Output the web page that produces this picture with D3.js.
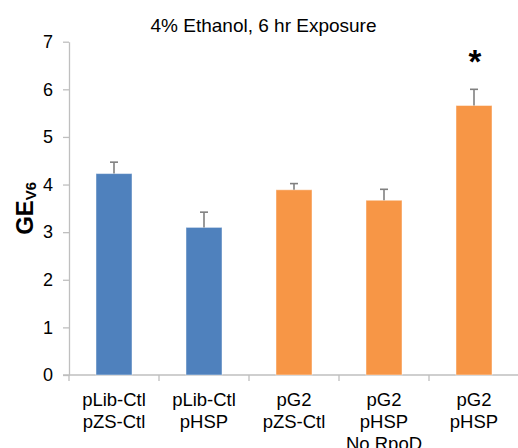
<!DOCTYPE html>
<html>
<head>
<meta charset="utf-8">
<script src="https://cdn.jsdelivr.net/npm/d3@7"></script>
<style>
  html, body { margin: 0; padding: 0; background: #fff; }
  svg { display: block; font-family: "Liberation Sans", Arial, sans-serif; }
</style>
</head>
<body>
<svg id="chart" width="518" height="448"></svg>
<script>
// Strains (label lines), mean GE values and standard errors
const categories = [
  ["pLib-Ctl", "pZS-Ctl"],
  ["pLib-Ctl", "pHSP"],
  ["pG2", "pZS-Ctl"],
  ["pG2", "pHSP", "No RpoD"],
  ["pG2", "pHSP"]
];
const values = [4.23, 3.10, 3.89, 3.67, 5.66];
const errors = [0.24, 0.32, 0.13, 0.23, 0.34];
const groups = ["ctl", "ctl", "g2", "g2", "g2"];
const significant = [false, false, false, false, true];
const yTicks = [0, 1, 2, 3, 4, 5, 6, 7];

const colors = { ctl: "#4F81BD", g2: "#F79646" };

const svg = d3.select("#chart");
const margin = { left: 69, right: -1, top: 41.7, bottom: 73 };
const W = 518, H = 448;

const x = d3.scaleBand()
  .domain(d3.range(values.length))
  .range([margin.left, W - margin.right])
  .paddingInner(0.6)
  .paddingOuter(0.3);

const y = d3.scaleLinear()
  .domain([0, 7])
  .range([H - margin.bottom, margin.top]);

// Title
svg.append("text")
  .attr("x", 263.5).attr("y", 32)
  .attr("text-anchor", "middle")
  .attr("font-size", 19)
  .attr("fill", "#000")
  .text("4% Ethanol, 6 hr Exposure");

// Y axis
const yAxis = svg.append("g")
  .attr("transform", `translate(${margin.left},0)`)
  .call(d3.axisLeft(y).tickValues(yTicks).tickFormat(d3.format("d"))
    .tickSize(6).tickSizeOuter(0).tickPadding(10));
yAxis.select(".domain").attr("stroke", "#BFBFBF").attr("stroke-width", 1.3);
yAxis.selectAll(".tick line").attr("stroke", "#BFBFBF").attr("stroke-width", 1.3);
yAxis.selectAll(".tick text")
  .attr("font-size", 18)
  .attr("fill", "#000")
  .attr("font-family", "Liberation Sans, Arial, sans-serif");

// X axis with tick marks at category boundaries
const x0 = y(0);
const boundaries = d3.range(values.length + 1).map(i =>
  margin.left + i * (W - margin.right - margin.left) / values.length);
svg.append("line")
  .attr("x1", margin.left - 6).attr("x2", W - margin.right)
  .attr("y1", x0).attr("y2", x0)
  .attr("stroke", "#BFBFBF").attr("stroke-width", 1.3);
svg.selectAll(".xtick").data(boundaries).enter().append("line")
  .attr("class", "xtick")
  .attr("x1", d => d).attr("x2", d => d)
  .attr("y1", x0).attr("y2", x0 + 6)
  .attr("stroke", "#BFBFBF").attr("stroke-width", 1.3);

// Bars
svg.selectAll(".bar").data(values).enter().append("rect")
  .attr("class", "bar")
  .attr("x", (d, i) => x(i))
  .attr("width", x.bandwidth())
  .attr("y", d => y(d))
  .attr("height", d => y(0) - y(d))
  .attr("fill", (d, i) => colors[groups[i]])
  .attr("stroke", "#ffffff")
  .attr("stroke-opacity", 0.45)
  .attr("stroke-width", 1);

// Error bars (upper only)
const eb = svg.selectAll(".err").data(values).enter().append("g").attr("class", "err");
eb.append("line")
  .attr("x1", (d, i) => x(i) + x.bandwidth() / 2)
  .attr("x2", (d, i) => x(i) + x.bandwidth() / 2)
  .attr("y1", d => y(d))
  .attr("y2", (d, i) => y(d + errors[i]))
  .attr("stroke", "#808080").attr("stroke-width", 1.6);
eb.append("line")
  .attr("x1", (d, i) => x(i) + x.bandwidth() / 2 - 4)
  .attr("x2", (d, i) => x(i) + x.bandwidth() / 2 + 4)
  .attr("y1", (d, i) => y(d + errors[i]))
  .attr("y2", (d, i) => y(d + errors[i]))
  .attr("stroke", "#808080").attr("stroke-width", 1.6);

// Significance marker
svg.selectAll(".sig").data(values.map((v, i) => ({ v, i })).filter(d => significant[d.i]))
  .enter().append("text")
  .attr("class", "sig")
  .attr("x", d => x(d.i) + x.bandwidth() / 2 + 1)
  .attr("y", d => y(d.v + errors[d.i]) - 16)
  .attr("text-anchor", "middle")
  .attr("font-size", 33)
  .attr("font-weight", "bold")
  .attr("fill", "#000")
  .text("*");

// Category labels (multi-line)
const lab = svg.selectAll(".xlab").data(categories).enter().append("text")
  .attr("class", "xlab")
  .attr("text-anchor", "middle")
  .attr("font-size", 18.5)
  .attr("fill", "#000");
lab.each(function (lines, i) {
  const cx = x(i) + x.bandwidth() / 2;
  d3.select(this).selectAll("tspan").data(lines).enter().append("tspan")
    .attr("x", cx)
    .attr("y", (d, j) => 406 + j * 22)
    .text(d => d);
});

// Y axis title with subscript, rotated to read bottom-to-top
const ylG = svg.append("g")
  .attr("transform", `translate(33,${(y(0) + y(7)) / 2}) rotate(-90)`);
const yl = ylG.append("text")
  .attr("x", 0).attr("y", 0)
  .attr("text-anchor", "middle")
  .attr("font-weight", "bold")
  .attr("font-size", 24)
  .attr("fill", "#000");
yl.append("tspan").text("GE");
yl.append("tspan").attr("font-size", 15).attr("dy", 3).text("V6");
</script>
</body>
</html>
